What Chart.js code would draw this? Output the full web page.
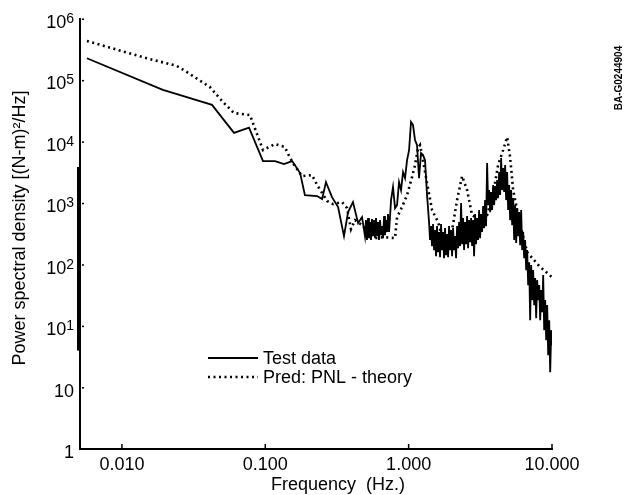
<!DOCTYPE html>
<html>
<head>
<meta charset="utf-8">
<script src="https://cdn.jsdelivr.net/npm/chart.js@4.4.1/dist/chart.umd.min.js"></script>
<style>
  html, body { margin: 0; padding: 0; background: #fff; }
</style>
</head>
<body>
<canvas id="psd" width="626" height="495"></canvas>
<script>
var FONT = '"Liberation Sans", Arial, Helvetica, sans-serif';

// test data (measured spectrum)
var testFreq = [0.0057, 0.0193, 0.0242, 0.0425, 0.0605, 0.077, 0.0964, 0.117, 0.135, 0.154,
  0.175, 0.189, 0.230, 0.249, 0.265, 0.292, 0.322, 0.354, 0.378, 0.409,
  0.444, 0.473, 0.496, 0.504, 0.512, 0.521, 0.529, 0.538, 0.546, 0.555,
  0.564, 0.573, 0.583, 0.592, 0.602, 0.612, 0.621, 0.632, 0.642, 0.652,
  0.663, 0.674, 0.684, 0.696, 0.707, 0.718, 0.730, 0.754, 0.778, 0.804,
  0.830, 0.857, 0.885, 0.914, 0.944, 0.975, 1.007, 1.039, 1.073, 1.108,
  1.144, 1.182, 1.220, 1.260, 1.301, 1.344, 1.388, 1.410, 1.433, 1.456,
  1.480, 1.504, 1.528, 1.553, 1.578, 1.604, 1.630, 1.656, 1.683, 1.710,
  1.738, 1.766, 1.795, 1.824, 1.854, 1.884, 1.914, 1.945, 1.977, 2.009,
  2.041, 2.075, 2.108, 2.142, 2.177, 2.212, 2.248, 2.285, 2.322, 2.359,
  2.398, 2.436, 2.476, 2.516, 2.557, 2.598, 2.641, 2.683, 2.727, 2.770,
  2.816, 2.861, 2.908, 2.954, 3.003, 3.051, 3.101, 3.150, 3.203, 3.253,
  3.307, 3.359, 3.415, 3.469, 3.527, 3.585, 3.642, 3.701, 3.761, 3.822,
  3.884, 3.947, 4.011, 4.076, 4.142, 4.209, 4.278, 4.347, 4.418, 4.489,
  4.562, 4.636, 4.711, 4.787, 4.865, 4.944, 5.024, 5.106, 5.188, 5.272,
  5.358, 5.445, 5.533, 5.623, 5.714, 5.806, 5.900, 5.996, 6.093, 6.192,
  6.293, 6.394, 6.498, 6.603, 6.711, 6.819, 6.930, 7.042, 7.156, 7.272,
  7.390, 7.510, 7.632, 7.756, 7.881, 8.009, 8.139, 8.271, 8.405, 8.542,
  8.680, 8.821, 8.963, 9.110, 9.256, 9.407, 9.559, 9.715, 9.871, 10.0];
var testPsd = [2.3e5, 7.0e4, 6.0e4, 4.0e4, 1.4e4, 1.7e4, 4870, 4870, 4350, 4870,
  3100, 1360, 1310, 1170, 2210, 1260, 867, 292, 719, 1046,
  476, 596, 292, 532, 252, 574, 271, 494, 252, 553,
  292, 532, 271, 574, 292, 494, 252, 532, 303, 425,
  271, 619, 303, 532, 340, 667, 340, 1127, 1835, 835,
  935, 2210, 1640, 3222, 2573, 5051, 7349, 21010, 18780, 10700,
  8866, 2573, 6569, 6095, 5051, 1360, 494, 252, 425, 201,
  458, 173, 366, 138, 425, 160, 340, 133, 458, 173,
  340, 128, 394, 143, 315, 133, 425, 173, 366, 138,
  394, 173, 292, 128, 425, 186, 494, 201, 1007, 216,
  574, 173, 494, 216, 619, 186, 532, 233, 574, 201,
  532, 138, 667, 216, 574, 252, 775, 271, 667, 340,
  900, 394, 1127, 425, 4514, 935, 1640, 719, 1522, 775,
  1979, 935, 1906, 1127, 2387, 1215, 3222, 1360, 5446, 1640,
  3743, 1522, 4189, 1127, 3222, 775, 1979, 532, 1640, 441,
  1215, 252, 935, 225, 835, 292, 719, 208, 775, 173,
  340, 128, 252, 81.7, 173, 46.5, 110, 12.5, 98.5, 26.5,
  81.7, 22.0, 60.5, 13.5, 56.1, 26.5, 46.5, 12.5, 38.6, 16.9,
  67.7, 8.6, 26.5, 5.9, 22.0, 3.37, 12.5, 1.78, 8.6, 4.9];

// prediction (PNL theory)
var predFreq = [0.0057, 0.0149, 0.0242, 0.0284, 0.0411, 0.0507, 0.0605, 0.0782, 0.0964, 0.117,
  0.137, 0.149, 0.156, 0.180, 0.212, 0.230, 0.270, 0.297, 0.343, 0.372,
  0.396, 0.423, 0.473, 0.521, 0.583, 0.663, 0.804, 0.830, 0.899, 0.975,
  1.056, 1.108, 1.163, 1.201, 1.240, 1.344, 1.457, 1.604, 1.766, 2.009,
  2.177, 2.359, 2.557, 2.770, 3.150, 3.527, 3.884, 4.207, 4.562, 4.865,
  5.101, 5.358, 5.714, 6.185, 6.711, 8.139, 10.0];
var predPsd = [4.38e5, 2.3e5, 1.72e5, 1.37e5, 7.8e4, 4.45e4, 2.94e4, 2.73e4, 7350, 9210,
  8230, 5450, 4510, 2770, 2880, 1980, 1090, 970, 1046, 835,
  380, 532, 441, 340, 271, 281, 271, 596, 867, 1360,
  2670, 4190, 7930, 8870, 6100, 2130, 775, 494, 225, 366,
  1127, 2770, 1640, 642, 532, 642, 1412, 4190, 7350, 11970,
  5650, 1640, 775, 340, 160, 94.9, 62.8];

var xTicks = [0.01, 0.1, 1, 10];
var xTickLabels = ['0.010', '0.100', '1.000', '10.000'];
var yTicks = [0.1, 1, 10, 100, 1e3, 1e4, 1e5, 1e6];
// [base, exponent]
var yTickLabels = [['1', ''], ['10', ''], ['10', '1'], ['10', '2'], ['10', '3'], ['10', '4'], ['10', '5'], ['10', '6']];

function pts(xs, ys) {
  return xs.map(function(x, i) { return { x: x, y: ys[i] }; });
}

var decor = {
  id: 'decor',
  afterDraw: function(chart) {
    var ctx = chart.ctx, a = chart.chartArea;
    var xs = chart.scales.x, ys = chart.scales.y;
    ctx.save();
    ctx.fillStyle = '#000';
    ctx.strokeStyle = '#000';

    // heavy stretch of the scanned y axis line
    ctx.lineWidth = 4;
    ctx.beginPath();
    ctx.moveTo(a.left - 1, ys.getPixelForValue(3900));
    ctx.lineTo(a.left - 1, ys.getPixelForValue(4));
    ctx.stroke();

    // y tick labels with exponents
    yTicks.forEach(function(v, i) {
      var y = ys.getPixelForValue(v);
      var lab = yTickLabels[i];
      var right = 74;
      ctx.fillRect(a.left + 2, y - 0.5, 2, 1.5);
      ctx.textBaseline = 'alphabetic';
      ctx.font = '14px ' + FONT;
      var ew = lab[1] ? ctx.measureText(lab[1]).width : 0;
      if (lab[1]) {
        ctx.textAlign = 'left';
        ctx.fillText(lab[1], right - ew, y + 4);
      }
      ctx.font = '18px ' + FONT;
      ctx.textAlign = 'right';
      ctx.fillText(lab[0], right - ew, y + 9);
    });

    // x tick marks
    ctx.lineWidth = 1.5;
    xTicks.forEach(function(v) {
      var x = xs.getPixelForValue(v);
      ctx.beginPath();
      ctx.moveTo(x, a.bottom - 1);
      ctx.lineTo(x, a.bottom - 5);
      ctx.stroke();
    });

    // legend
    var rows = [358, 377];
    chart.data.datasets.forEach(function(ds, i) {
      var y = rows[i];
      ctx.lineWidth = ds.borderWidth;
      ctx.setLineDash(ds.borderDash || []);
      ctx.beginPath();
      ctx.moveTo(208, y);
      ctx.lineTo(258, y);
      ctx.stroke();
      ctx.setLineDash([]);
      ctx.font = '18px ' + FONT;
      ctx.textAlign = 'left';
      ctx.textBaseline = 'middle';
      ctx.fillText(ds.label, 263, y + 1);
    });

    // axis titles
    ctx.font = '18px ' + FONT;
    ctx.textAlign = 'center';
    ctx.textBaseline = 'middle';
    ctx.fillText('Frequency  (Hz.)', 338, 485);
    ctx.save();
    ctx.translate(20, 228);
    ctx.rotate(-Math.PI / 2);
    ctx.fillText('Power spectral density [(N-m)\u00b2/Hz]', 0, 0);
    ctx.restore();

    // figure id
    ctx.save();
    ctx.translate(619, 78);
    ctx.rotate(-Math.PI / 2);
    ctx.font = 'bold 10px ' + FONT;
    ctx.fillText('BA-G0244904', 0, 0);
    ctx.restore();

    ctx.restore();
  }
};

new Chart(document.getElementById('psd').getContext('2d'), {
  type: 'line',
  data: {
    datasets: [
      {
        label: 'Test data',
        data: pts(testFreq, testPsd),
        borderColor: '#000',
        borderWidth: 1.8,
        pointRadius: 0,
        tension: 0,
        fill: false
      },
      {
        label: 'Pred: PNL - theory',
        data: pts(predFreq, predPsd),
        borderColor: '#000',
        borderWidth: 2.6,
        borderDash: [2, 3.5],
        pointRadius: 0,
        tension: 0,
        fill: false
      }
    ]
  },
  options: {
    responsive: false,
    animation: false,
    devicePixelRatio: 1,
    layout: { padding: { top: 19, right: 74, left: 0, bottom: 0 } },
    plugins: {
      legend: { display: false },
      tooltip: { enabled: false }
    },
    scales: {
      x: {
        type: 'logarithmic',
        min: 0.0051,
        max: 10,
        afterBuildTicks: function(s) { s.ticks = xTicks.map(function(v) { return { value: v }; }); },
        afterFit: function(s) { s.height = 46; },
        ticks: {
          autoSkip: false,
          maxRotation: 0,
          padding: 5,
          color: '#000',
          font: { size: 18, family: FONT },
          callback: function(v, i) { return xTickLabels[i]; }
        },
        grid: { display: true, drawOnChartArea: false, drawTicks: false },
        border: { display: true, color: '#000', width: 2 }
      },
      y: {
        type: 'logarithmic',
        min: 0.1,
        max: 1e6,
        afterBuildTicks: function(s) { s.ticks = yTicks.map(function(v) { return { value: v }; }); },
        afterFit: function(s) { s.width = 80; },
        ticks: { display: false },
        grid: { display: true, drawOnChartArea: false, drawTicks: false },
        border: { display: true, color: '#000', width: 2 }
      }
    }
  },
  plugins: [decor]
});
</script>
</body>
</html>
